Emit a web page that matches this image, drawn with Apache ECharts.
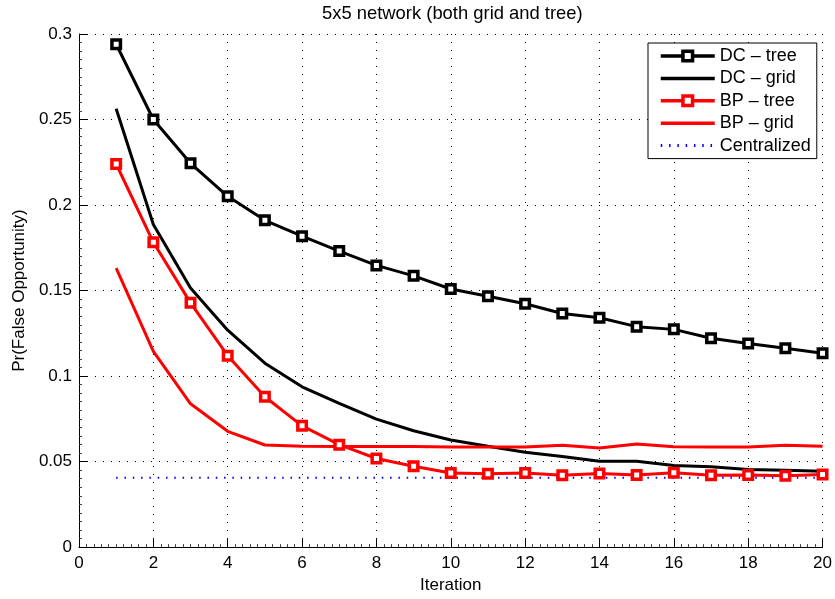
<!DOCTYPE html>
<html>
<head>
<meta charset="utf-8">
<script src="https://cdn.jsdelivr.net/npm/echarts@6/dist/echarts.min.js"></script>
<style>
html,body{margin:0;padding:0;background:#fff;}
#chart{width:835px;height:599px;}
</style>
</head>
<body>
<div id="chart"></div>
<script>
const iterations = [1,2,3,4,5,6,7,8,9,10,11,12,13,14,15,16,17,18,19,20];
const dcTree = [0.294,0.250,0.2244,0.2051,0.1911,0.1818,0.1731,0.1647,0.1586,0.1509,0.1467,0.1423,0.1366,0.1341,0.1289,0.1273,0.1221,0.1190,0.1163,0.1134];
const dcGrid = [0.2563,0.1886,0.1515,0.1268,0.1075,0.0937,0.0840,0.0748,0.0680,0.0626,0.0590,0.0555,0.0530,0.0502,0.0502,0.0477,0.0470,0.0454,0.0450,0.0444];
const bpTree = [0.224,0.1782,0.1428,0.1119,0.0879,0.0709,0.0599,0.0518,0.0473,0.0433,0.0429,0.0433,0.0420,0.0431,0.0421,0.0435,0.0420,0.0421,0.0417,0.0425];
const bpGrid = [0.1631,0.1144,0.0838,0.0677,0.0597,0.0590,0.0588,0.0588,0.0588,0.0585,0.0585,0.0585,0.0595,0.0580,0.0603,0.0587,0.0585,0.0585,0.0595,0.0590];
const centralized = [0.0405,0.0405,0.0405,0.0405,0.0405,0.0405,0.0405,0.0405,0.0405,0.0405,0.0405,0.0405,0.0405,0.0405,0.0405,0.0405,0.0405,0.0405,0.0405,0.0405];
const seriesNames = ['DC \u2013 tree','DC \u2013 grid','BP \u2013 tree','BP \u2013 grid','Centralized'];
const titleText = '5x5 network (both grid and tree)';
const xLabel = 'Iteration';
const yLabel = 'Pr(False Opportunity)';

const pairs = arr => iterations.map((x, i) => [x, arr[i]]);
const FONT = '"Liberation Sans", Arial, Helvetica, sans-serif';

const chart = echarts.init(document.getElementById('chart'), null, {renderer: 'canvas'});
const markerSeries = (name, data, color) => ({
  name, type: 'line', data: pairs(data),
  symbol: 'rect', symbolSize: 8.5, showSymbol: true,
  lineStyle: {color, width: 3},
  itemStyle: {color: '#ffffff', borderColor: color, borderWidth: 3.5},
  animation: false
});
const plainSeries = (name, data, color) => ({
  name, type: 'line', data: pairs(data), symbol: 'none',
  lineStyle: {color, width: 3},
  itemStyle: {color},
  animation: false
});

chart.setOption({
  backgroundColor: '#fff',
  animation: false,
  title: {
    text: titleText, left: 322, top: 5, padding: 0,
    textStyle: {fontFamily: FONT, fontSize: 18.4, fontWeight: 'normal', color: '#000'}
  },
  grid: {left: 79, right: 11, top: 34, bottom: 48, containLabel: false},
  legend: {
    orient: 'vertical', left: 648, top: 43,
    padding: [3, 6, 3, 11],
    itemWidth: 54, itemHeight: 12, itemGap: 2.4,
    backgroundColor: '#fff', borderColor: '#000', borderWidth: 1,
    textStyle: {fontFamily: FONT, fontSize: 18, color: '#000', lineHeight: 20},
    data: [
      {name: seriesNames[0], lineStyle: {width: 3.5}, itemStyle: {borderWidth: 3.5}},
      {name: seriesNames[1], lineStyle: {width: 3.5}, itemStyle: {opacity: 0}},
      {name: seriesNames[2], lineStyle: {width: 3.5}, itemStyle: {borderWidth: 3.5}},
      {name: seriesNames[3], lineStyle: {width: 3.5}, itemStyle: {opacity: 0}},
      {name: seriesNames[4], lineStyle: {width: 3, type: [1.5, 6.8]}, itemStyle: {opacity: 0}}
    ]
  },
  xAxis: {
    type: 'value', min: 0, max: 20, interval: 2,
    name: xLabel, nameLocation: 'middle', nameGap: 28,
    nameTextStyle: {fontFamily: FONT, fontSize: 17, color: '#000'},
    axisLine: {show: true, onZero: false, lineStyle: {color: '#000', width: 1}},
    axisTick: {show: true, inside: true, length: 8, lineStyle: {color: '#000'}},
    minorTick: {show: true, splitNumber: 10, length: 3, lineStyle: {color: '#444'}},
    axisLabel: {fontFamily: FONT, fontSize: 17, color: '#000', margin: 8},
    splitLine: {show: true, lineStyle: {color: '#000', width: 1, type: [1, 7]}}
  },
  yAxis: {
    type: 'value', min: 0, max: 0.3, interval: 0.05,
    name: yLabel, nameLocation: 'middle', nameGap: 40, nameRotate: 90,
    nameTextStyle: {fontFamily: FONT, fontSize: 17, color: '#000'},
    axisLine: {show: true, lineStyle: {color: '#000', width: 1}},
    axisTick: {show: true, inside: true, length: 8, lineStyle: {color: '#000'}},
    minorTick: {show: true, splitNumber: 10, length: 3, lineStyle: {color: '#444'}},
    axisLabel: {fontFamily: FONT, fontSize: 17, color: '#000', margin: 7},
    splitLine: {show: true, lineStyle: {color: '#000', width: 1, type: [1, 7]}}
  },
  series: [
    markerSeries(seriesNames[0], dcTree, '#000000'),
    plainSeries(seriesNames[1], dcGrid, '#000000'),
    markerSeries(seriesNames[2], bpTree, '#ff0000'),
    plainSeries(seriesNames[3], bpGrid, '#ff0000'),
    {
      name: seriesNames[4], type: 'line', data: pairs(centralized), symbol: 'none',
      lineStyle: {color: '#0000ff', width: 2, type: [1.5, 6.8], cap: 'butt'},
      itemStyle: {color: '#0000ff'},
      animation: false
    }
  ]
});
</script>
</body>
</html>
